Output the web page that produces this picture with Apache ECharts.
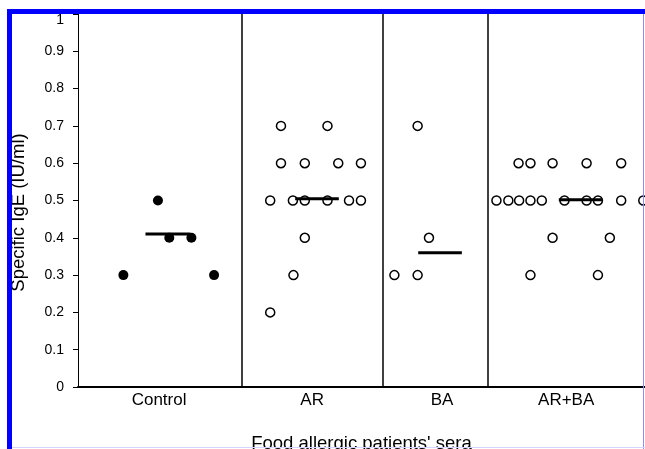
<!DOCTYPE html>
<html>
<head>
<meta charset="utf-8">
<script src="https://cdn.jsdelivr.net/npm/echarts@6/dist/echarts.min.js"></script>
<style>html,body{margin:0;padding:0;background:#fff;}#c{width:645px;height:449px;}</style>
</head>
<body>
<div id="c"></div>
<script>
// ---- data ----
const categories = ['Control', 'AR', 'BA', 'AR+BA'];
const categoryPos = [14.3, 41.3, 64.2, 86.1];
const separatorPos = [28.9, 53.8, 72.3];
const yMin = 0, yMax = 1, yStep = 0.1;

const controlX = [8.0, 14.1, 16.1, 20.0, 24.0];
const controlY = [0.3, 0.5, 0.4, 0.4, 0.3];

const arX = [35.8, 44.0, 35.8, 40.0, 45.9, 49.9, 33.9, 37.9, 40.0, 44.0, 47.8, 49.9, 40.0, 38.0, 33.9];
const arY = [0.7, 0.7, 0.6, 0.6, 0.6, 0.6, 0.5, 0.5, 0.5, 0.5, 0.5, 0.5, 0.4, 0.3, 0.2];

const baX = [59.9, 61.9, 55.8, 59.9];
const baY = [0.7, 0.4, 0.3, 0.3];

const arbaX = [77.7, 79.8, 83.7, 89.7, 95.8, 73.8, 75.9, 77.8, 79.8, 81.8, 85.8, 89.7, 91.7, 95.8, 99.7, 83.7, 93.8, 79.8, 91.7];
const arbaY = [0.6, 0.6, 0.6, 0.6, 0.6, 0.5, 0.5, 0.5, 0.5, 0.5, 0.5, 0.5, 0.5, 0.5, 0.5, 0.4, 0.4, 0.3, 0.3];

const meanValues = [0.41, 0.505, 0.36, 0.502];
const meanStart = [11.9, 38.3, 60.0, 84.8];
const meanEnd = [19.8, 46.0, 67.7, 92.4];

// ---- chart ----
const zip = (xs, ys) => xs.map((x, i) => [x, ys[i]]);
const FONT = 'Liberation Sans';
const openStyle = { color: '#fff', borderColor: '#000', borderWidth: 1.5, opacity: 1 };

const series = [
  { type: 'scatter', name: categories[0], data: zip(controlX, controlY), symbolSize: 10,
    itemStyle: { color: '#000', opacity: 1 }, z: 3,
    markLine: { silent: true, symbol: 'none', label: { show: false },
      lineStyle: { color: '#000', width: 1.5, type: 'solid' },
      data: separatorPos.map(v => ({ xAxis: v })) } },
  { type: 'scatter', name: categories[1], data: zip(arX, arY), symbolSize: 9, itemStyle: openStyle, z: 3 },
  { type: 'scatter', name: categories[2], data: zip(baX, baY), symbolSize: 9, itemStyle: openStyle, z: 3 },
  { type: 'scatter', name: categories[3], data: zip(arbaX, arbaY), symbolSize: 9, itemStyle: openStyle, z: 3 }
];
meanValues.forEach((m, i) => {
  series.push({ type: 'line', data: [[meanStart[i], m], [meanEnd[i], m]], showSymbol: false, symbol: 'none',
    lineStyle: { color: '#000', width: 3 }, z: 5, silent: true, animation: false });
});

const chart = echarts.init(document.getElementById('c'), null, { renderer: 'canvas' });
chart.setOption({
  animation: false,
  backgroundColor: '#fff',
  textStyle: { fontFamily: FONT, color: '#000' },
  grid: { left: 78, right: 0, top: 14, bottom: 62, containLabel: false, outerBoundsMode: 'none' },
  xAxis: {
    type: 'value', min: 0, max: 100,
    name: "Food allergic patients' sera", nameLocation: 'middle', nameGap: 47,
    nameTextStyle: { fontFamily: FONT, fontSize: 18.5, color: '#000' },
    axisLine: { show: true, onZero: false, lineStyle: { color: '#000', width: 2 } },
    axisTick: { show: false },
    splitLine: { show: false },
    axisLabel: {
      customValues: categoryPos, margin: 5,
      fontFamily: FONT, fontSize: 17, color: '#000',
      formatter: function (v) {
        let best = 0;
        categoryPos.forEach((p, i) => { if (Math.abs(p - v) < Math.abs(categoryPos[best] - v)) best = i; });
        return categories[best];
      }
    }
  },
  yAxis: {
    type: 'value', min: yMin, max: yMax, interval: yStep,
    name: 'Specific IgE (IU/ml)', nameLocation: 'middle', nameGap: 50,
    nameTextStyle: { fontFamily: FONT, fontSize: 18.5, color: '#000', padding: [0, 24, 0, 0] },
    axisLine: { show: true, lineStyle: { color: '#000', width: 1 } },
    axisTick: { show: true, length: 5, lineStyle: { color: '#000' } },
    splitLine: { show: false },
    axisLabel: {
      margin: 14, fontFamily: FONT, fontSize: 14, color: '#000',
      formatter: function (v) { return v >= yMax - 1e-9 ? '{t|' + v + '}' : String(v); },
      rich: { t: { fontFamily: FONT, fontSize: 14, color: '#000', padding: [12, 0, 0, 0] } }
    }
  },
  series: series,
  graphic: [
    { type: 'rect', shape: { x: 7, y: 9, width: 638, height: 5 }, style: { fill: '#0000ff' }, z: 100 },
    { type: 'rect', shape: { x: 7, y: 9, width: 5, height: 440 }, style: { fill: '#0000ff' }, z: 100 },
    { type: 'line', shape: { x1: 643.5, y1: 14, x2: 643.5, y2: 449 }, style: { stroke: '#8c8cff', lineWidth: 1 }, z: 100 },
    { type: 'line', shape: { x1: 12, y1: 447.5, x2: 645, y2: 447.5 }, style: { stroke: '#d4d4ff', lineWidth: 1 }, z: 100 }
  ]
});
</script>
</body>
</html>
